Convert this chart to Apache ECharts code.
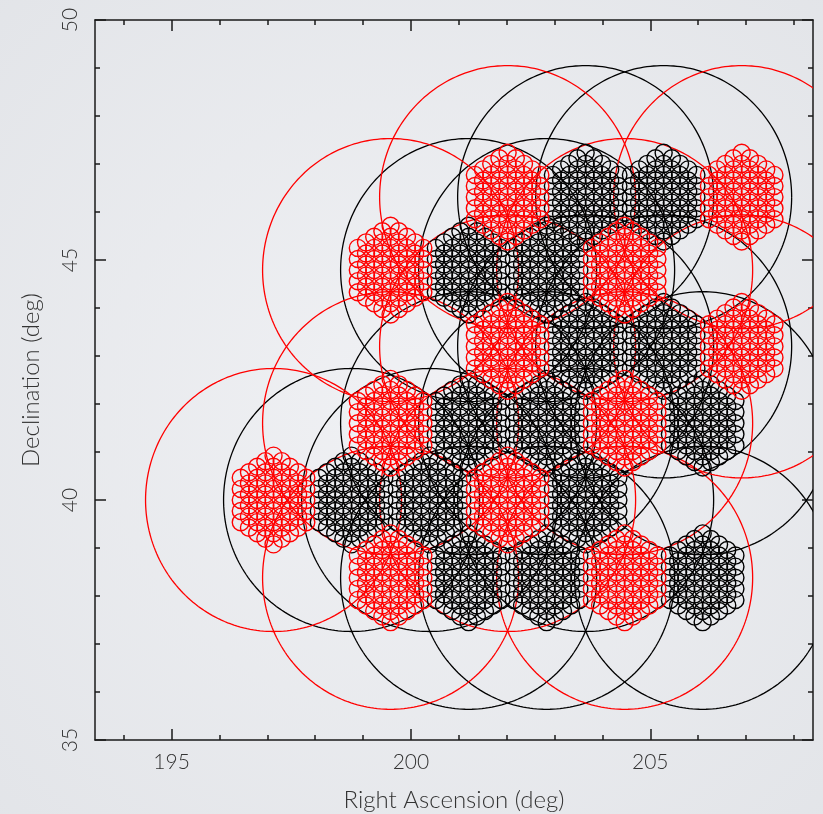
<!DOCTYPE html>
<html>
<head>
<meta charset="utf-8">
<script src="https://cdn.jsdelivr.net/npm/echarts@6/dist/echarts.min.js"></script>
<style>
html,body{margin:0;padding:0;background:#eaecef;}
#c{width:823px;height:814px;}
</style>
</head>
<body>
<div id="c"></div>
<script>
// ---- axes ----
const xMin = 193.4, xMax = 208.4;
const yMin = 35, yMax = 50;
const xTickMinor = [194,195,196,197,198,199,200,201,202,203,204,205,206,207,208];
const xTickMajor = [195,200,205];
const yTickLabels = [35,40,45,50];
const xTitle = 'Right Ascension (deg)';
const yTitle = 'Declination (deg)';

// ---- pointing centres (RA, Dec in deg) ----
const redRA  = [197.13, 202.02, 199.575, 204.465, 199.575, 204.465, 202.02, 206.91, 199.575, 204.465, 202.02, 206.91];
const redDec = [40.00,  40.00,  38.38,   38.38,   41.60,   41.60,   43.20,  43.20,  44.79,   44.79,   46.31,  46.31];
const blackRA  = [198.76, 200.39, 203.65, 201.205, 202.835, 206.095, 201.205, 202.835, 206.095, 203.65, 205.28, 201.205, 202.835, 203.65, 205.28];
const blackDec = [40.00,  40.00,  40.00,  38.38,   38.38,   38.38,   41.60,   41.60,   41.60,   43.20,  43.20,  44.79,   44.79,   46.31,  46.31];

// ---- beam geometry (deg) ----
const stationBeamRA = 2.674, stationBeamDec = 2.74;   // large (incoherent) beam radius
const tabRings = 4;                                   // rings of tied-array beams
const tabStepRA = 0.171, tabStepDec = 0.231;          // lattice steps
const tabRadius = 0.178;                              // small beam radius

function tabCentres(ra, dec) {
  const out = [];
  for (let q = -tabRings; q <= tabRings; q++) {
    for (let s = -tabRings; s <= tabRings; s++) {
      if (Math.abs(q + s) > tabRings) continue;
      out.push([ra + q * tabStepRA, dec + (q / 2 + s) * tabStepDec]);
    }
  }
  return out;
}
const redCentres = redRA.map((r, i) => [r, redDec[i]]);
const blackCentres = blackRA.map((r, i) => [r, blackDec[i]]);
const redTabs = [].concat(...redCentres.map(c => tabCentres(c[0], c[1])));
const blackTabs = [].concat(...blackCentres.map(c => tabCentres(c[0], c[1])));

function clipOf(params) {
  const cs = params.coordSys;
  return {type: 'rect', shape: {x: cs.x, y: cs.y, width: cs.width, height: cs.height}};
}
function bigRenderer(color) {
  return function (params, api) {
    const ra = api.value(0), dec = api.value(1);
    const pts = [];
    for (let k = 0; k <= 240; k++) {
      const t = k / 240 * 2 * Math.PI;
      pts.push(api.coord([ra + stationBeamRA * Math.cos(t), dec + stationBeamDec * Math.sin(t)]));
    }
    return {type: 'polyline', shape: {points: pts}, silent: true, clipPath: clipOf(params),
      style: {fill: null, stroke: color, lineWidth: 1.3}};
  };
}
function tabRenderer(color) {
  return function (params, api) {
    const c = api.coord([api.value(0), api.value(1)]);
    const r = api.size([tabRadius, 0])[0];
    return {type: 'circle', shape: {cx: c[0], cy: c[1], r: r}, silent: true,
      style: {fill: null, stroke: color, lineWidth: 1.4}};
  };
}

const FONT = 'Lato, "Liberation Sans", sans-serif';
const TXT = '#333333';
const lineStyle = {color: '#1a1a1a', width: 1.5};

function xAx(pos, major, withLine, extra) {
  return Object.assign({
    type: 'value', position: pos, min: xMin, max: xMax, gridIndex: 0,
    axisLine: {show: withLine, onZero: false, lineStyle: lineStyle},
    axisTick: {show: true, inside: true, length: major ? 11 : 5,
      customValues: major ? xTickMajor : xTickMinor, lineStyle: lineStyle},
    axisLabel: {show: false},
    splitLine: {show: false}
  }, extra || {});
}
function yAx(pos, major, withLine, extra) {
  return Object.assign({
    type: 'value', position: pos, min: yMin, max: yMax, interval: major ? 5 : 1, gridIndex: 0,
    axisLine: {show: withLine, onZero: false, lineStyle: lineStyle},
    axisTick: {show: true, inside: true, length: major ? 11 : 5, lineStyle: lineStyle},
    axisLabel: {show: false},
    splitLine: {show: false}
  }, extra || {});
}

const chart = echarts.init(document.getElementById('c'), null, {renderer: 'canvas'});
chart.setOption({
  animation: false,
  backgroundColor: {
    type: 'radial', x: 0.5, y: 0.5, r: 0.75,
    colorStops: [{offset: 0, color: '#f0f1f4'}, {offset: 1, color: '#e2e4e8'}]
  },
  grid: {left: 95, right: 10, top: 20, bottom: 74, containLabel: false, outerBoundsMode: 'none'},
  xAxis: [
    xAx('bottom', false, true, {
      axisLabel: {show: true, customValues: xTickMajor, fontSize: 21, color: TXT, margin: 12, fontFamily: FONT, fontWeight: 300},
      name: xTitle, nameLocation: 'middle', nameGap: 48,
      nameTextStyle: {fontSize: 24, color: TXT, fontFamily: FONT, fontWeight: 300}
    }),
    xAx('bottom', true, false),
    xAx('top', false, true),
    xAx('top', true, false)
  ],
  yAxis: [
    yAx('left', false, true, {
      axisLabel: {show: true, rotate: 90, fontSize: 21, color: TXT, margin: 14, fontFamily: FONT, fontWeight: 300,
        formatter: v => (yTickLabels.indexOf(v) >= 0 ? String(v) : '')},
      name: yTitle, nameLocation: 'middle', nameGap: 52,
      nameTextStyle: {fontSize: 24, color: TXT, fontFamily: FONT, fontWeight: 300}
    }),
    yAx('left', true, false),
    yAx('right', false, true),
    yAx('right', true, false)
  ],
  series: [
    {type: 'custom', xAxisIndex: 0, yAxisIndex: 0, clip: true, silent: true, data: blackCentres, renderItem: bigRenderer('#000000')},
    {type: 'custom', xAxisIndex: 0, yAxisIndex: 0, clip: true, silent: true, data: redCentres, renderItem: bigRenderer('#ff0000')},
    {type: 'custom', xAxisIndex: 0, yAxisIndex: 0, clip: true, silent: true, data: blackTabs, renderItem: tabRenderer('#000000')},
    {type: 'custom', xAxisIndex: 0, yAxisIndex: 0, clip: true, silent: true, data: redTabs, renderItem: tabRenderer('#ff0000')}
  ]
});
</script>
</body>
</html>
